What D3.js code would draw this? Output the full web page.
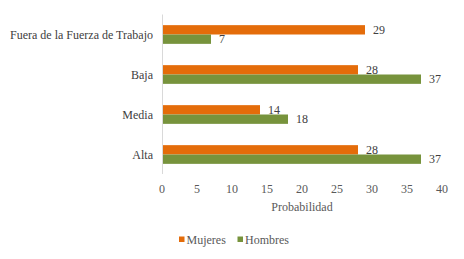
<!DOCTYPE html>
<html><head><meta charset="utf-8">
<script src="https://cdn.jsdelivr.net/npm/d3@7"></script>
</head><body style="margin:0;background:#fff"><svg id="c" width="464" height="259"></svg>
<script>
const categories = ["Fuera de la Fuerza de Trabajo","Baja","Media","Alta"];
const seriesNames = ["Mujeres","Hombres"];
const mujeres = [29,28,14,28];
const hombres = [7,37,18,37];
const xTicks = [0,5,10,15,20,25,30,35,40];
const colors = ["#E46C0A","#77933C"];
const FONT = "Liberation Serif";
const FS = 12;

const svg = d3.select("#c");
const x = d3.scaleLinear().domain([0,40]).range([162,442]);
const y = d3.scaleBand().domain(categories).range([14.5,174.5]).paddingInner(0).paddingOuter(0);
const sub = d3.scaleBand().domain(seriesNames).range([0,18.7]);
const bh = 18.7, off = (y.bandwidth()-bh)/2;
const data = [mujeres, hombres];

svg.append("line").attr("x1",x(0)+0.5).attr("x2",x(0)+0.5).attr("y1",14.5).attr("y2",174)
  .attr("stroke","#d9d9d9").attr("stroke-width",1);

seriesNames.forEach((s,si)=>{
  const g = svg.append("g");
  g.selectAll("rect").data(categories).join("rect")
    .attr("x",x(0)+1).attr("y",(c)=>y(c)+off+sub(s))
    .attr("width",(c,i)=>x(data[si][i])-x(0)-1).attr("height",sub.bandwidth())
    .attr("fill",colors[si]);
  g.selectAll("text").data(categories).join("text")
    .attr("x",(c,i)=>x(data[si][i])+8)
    .attr("y",(c)=>y(c)+off+sub(s)+sub.bandwidth()/2+4)
    .attr("font-family",FONT).attr("font-size",FS).attr("fill","#404040")
    .text((c,i)=>data[si][i]);
});

// category labels
svg.append("g").selectAll("text").data(categories).join("text")
  .attr("x",153).attr("y",c=>y(c)+y.bandwidth()/2+4).attr("text-anchor","end")
  .attr("font-family",FONT).attr("font-size",FS).attr("fill","#404040").text(c=>c);

// x tick labels
svg.append("g").selectAll("text").data(xTicks).join("text")
  .attr("x",d=>x(d)).attr("y",193).attr("text-anchor","middle")
  .attr("font-family",FONT).attr("font-size",FS).attr("fill","#595959").text(d=>d);

svg.append("text").attr("x",302).attr("y",211).attr("text-anchor","middle")
  .attr("font-family",FONT).attr("font-size",FS).attr("fill","#595959").text("Probabilidad");

// legend
const leg = svg.append("g");
const lx = [179,237.5];
seriesNames.forEach((s,i)=>{
  leg.append("rect").attr("x",lx[i]).attr("y",236.5).attr("width",5.5).attr("height",5.5).attr("fill",colors[i]);
  leg.append("text").attr("x",lx[i]+7.5).attr("y",244)
    .attr("font-family",FONT).attr("font-size",FS).attr("fill","#595959").text(s);
});
</script></body></html>
